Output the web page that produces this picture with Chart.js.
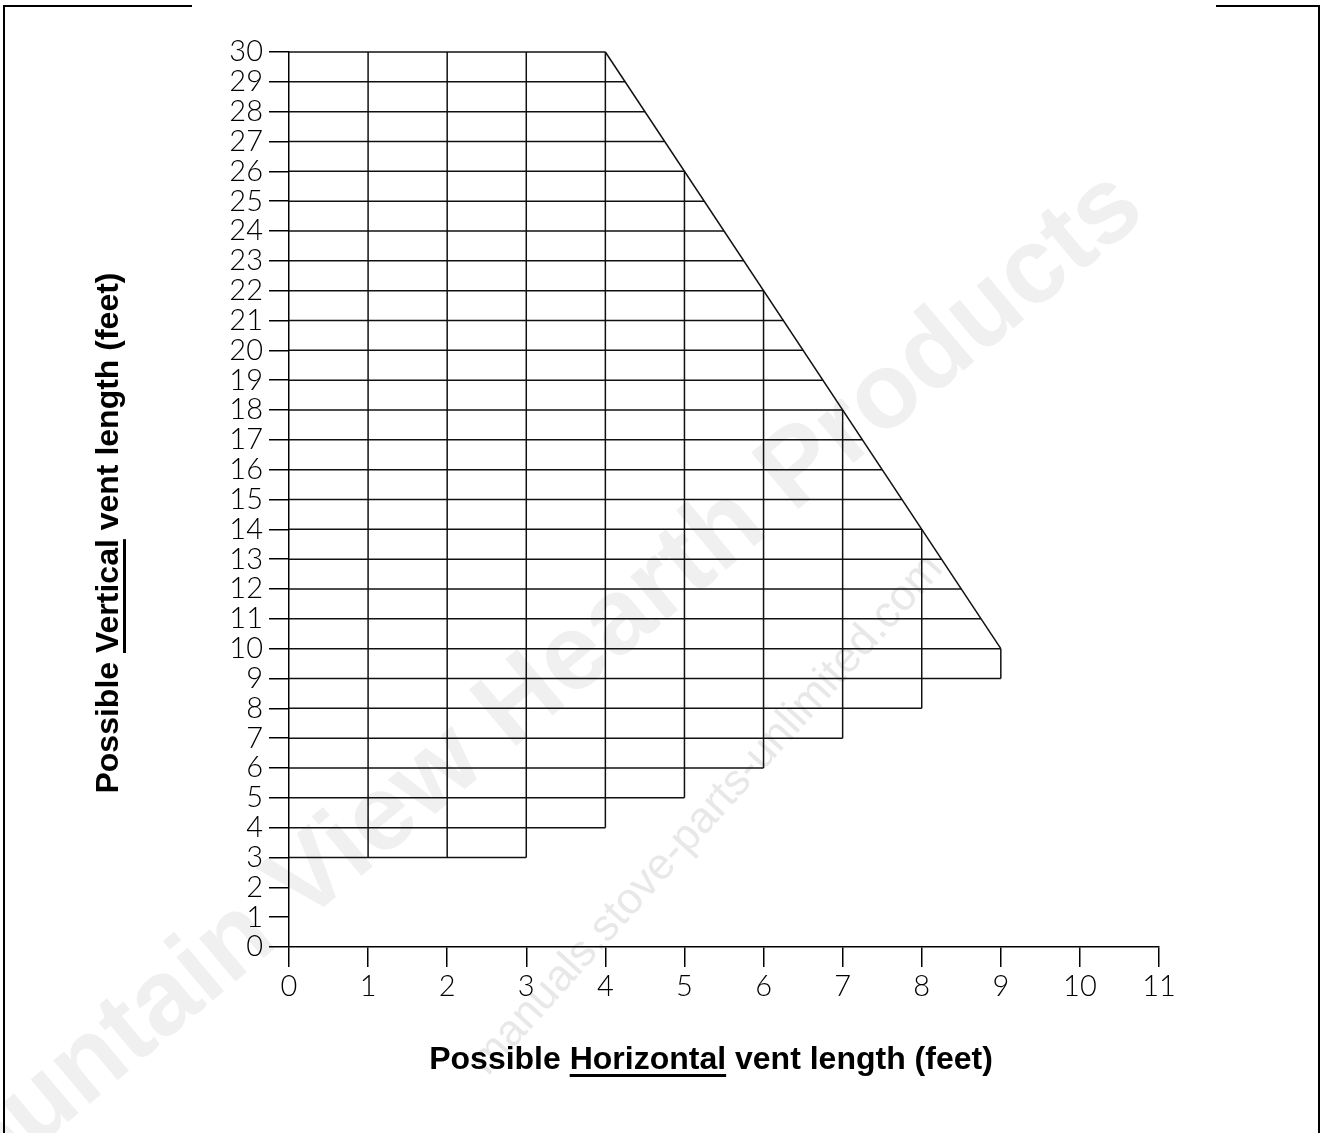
<!DOCTYPE html>
<html>
<head>
<meta charset="utf-8">
<title>Vent length chart</title>
<script src="https://cdn.jsdelivr.net/npm/chart.js@4.4.1/dist/chart.umd.min.js"></script>
<style>
html, body { margin: 0; padding: 0; background: #fff; overflow: hidden; }
canvas { display: block; }
</style>
</head>
<body>
<canvas id="ventChart" width="1320" height="1133"></canvas>
<script>
/* Tick labels on both axes */
const xTicks = [0, 1, 2, 3, 4, 5, 6, 7, 8, 9, 10, 11];
const yTicks = [0, 1, 2, 3, 4, 5, 6, 7, 8, 9, 10, 11, 12, 13, 14, 15,
    16, 17, 18, 19, 20, 21, 22, 23, 24, 25, 26, 27, 28, 29, 30];

/* Horizontal rows: vertical length and where the row ends on the right */
const rowY   = [3, 4, 5, 6, 7, 8, 9, 10, 11, 12, 13, 14, 15, 16, 17, 18,
    19, 20, 21, 22, 23, 24, 25, 26, 27, 28, 29, 30];
const rowEnd = [3, 4, 5, 6, 7, 8, 9, 9, 8.75, 8.5, 8.25, 8, 7.75, 7.5, 7.25, 7,
    6.75, 6.5, 6.25, 6, 5.75, 5.5, 5.25, 5, 4.75, 4.5, 4.25, 4];

/* Vertical columns: horizontal length, bottom and top of each column */
const colX      = [1, 2, 3, 4, 5, 6, 7, 8, 9];
const colBottom = [3, 3, 3, 4, 5, 6, 7, 8, 9];
const colTop    = [30, 30, 30, 30, 26, 22, 18, 14, 10];

/* Sloped limit line */
const slopeX = [9, 4];
const slopeY = [10, 30];

/////////////////////////////////////////////////////////////////
const lineColor = '#111';
const tickFont = { family: 'Lato', size: 29, weight: 300 };

function segment(points) {
    return {
        data: points,
        showLine: true,
        borderColor: lineColor,
        borderWidth: 1.5,
        pointRadius: 0,
        clip: false
    };
}

let datasets = [];
for (let i = 0; i < rowY.length; i++) {
    datasets.push(segment([{ x: 0, y: rowY[i] }, { x: rowEnd[i], y: rowY[i] }]));
}
for (let i = 0; i < colX.length; i++) {
    datasets.push(segment([{ x: colX[i], y: colBottom[i] }, { x: colX[i], y: colTop[i] }]));
}
datasets.push(segment([{ x: slopeX[0], y: slopeY[0] }, { x: slopeX[1], y: slopeY[1] }]));

/////////////////////////////////////////////////////////////////
/* Watermarks, page frame and the two underlined axis titles */
const pagePlugin = {
    id: 'pageDecor',
    beforeDraw(chart) {
        const ctx = chart.ctx;
        ctx.save();
        ctx.fillStyle = '#f0f0f0';
        ctx.textAlign = 'center';
        ctx.textBaseline = 'middle';
        ctx.translate(513, 710);
        ctx.rotate(-40 * Math.PI / 180);
        ctx.font = 'bold 107px "Liberation Sans"';
        ctx.fillText('Mountain View Hearth Products', 0, 0);
        ctx.restore();

        ctx.save();
        ctx.fillStyle = '#e8e8e8';
        ctx.textAlign = 'center';
        ctx.textBaseline = 'middle';
        ctx.translate(707, 815);
        ctx.rotate(-48 * Math.PI / 180);
        ctx.font = '44px "Liberation Sans"';
        ctx.fillText('manuals.stove-parts-unlimited.com', 0, 0);
        ctx.restore();
    },
    afterDraw(chart) {
        const ctx = chart.ctx;
        ctx.save();
        ctx.strokeStyle = '#000';
        ctx.lineWidth = 2;
        ctx.beginPath();
        ctx.moveTo(192, 6); ctx.lineTo(4, 6); ctx.lineTo(4, 1133);
        ctx.moveTo(1216, 6); ctx.lineTo(1319, 6); ctx.lineTo(1319, 1133);
        ctx.stroke();

        ctx.fillStyle = '#000';
        ctx.font = 'bold 32px "Liberation Sans"';
        ctx.textBaseline = 'alphabetic';
        ctx.textAlign = 'left';

        // x title
        let pre = 'Possible ', mid = 'Horizontal', post = ' vent length (feet)';
        let w = ctx.measureText(pre + mid + post).width;
        let x0 = 711 - w / 2, base = 1069;
        ctx.fillText(pre + mid + post, x0, base);
        let ux = x0 + ctx.measureText(pre).width;
        ctx.fillRect(ux, base + 5, ctx.measureText(mid).width, 3);

        // y title
        ctx.translate(118, 533);
        ctx.rotate(-Math.PI / 2);
        pre = 'Possible '; mid = 'Vertical';
        w = ctx.measureText(pre + mid + post).width;
        x0 = -w / 2;
        ctx.fillText(pre + mid + post, x0, 0);
        ux = x0 + ctx.measureText(pre).width;
        ctx.fillRect(ux, 5, ctx.measureText(mid).width, 3);
        ctx.restore();
    }
};

/////////////////////////////////////////////////////////////////
const ctx = document.getElementById('ventChart');
const ventChart = new Chart(ctx, {
    type: 'scatter',
    data: { datasets: datasets },
    plugins: [pagePlugin],
    options: {
        responsive: false,
        animation: false,
        layout: { padding: { left: 0, top: 52, right: 161, bottom: 0 } },
        plugins: {
            legend: { display: false },
            tooltip: { enabled: false }
        },
        scales: {
            x: {
                type: 'linear',
                position: 'bottom',
                min: xTicks[0],
                max: xTicks[xTicks.length - 1],
                afterBuildTicks: s => { s.ticks = xTicks.map(v => ({ value: v })); },
                afterFit: s => { s.height = 186; },
                ticks: { font: tickFont, color: '#000', padding: 2, maxRotation: 0, autoSkip: false },
                grid: { drawOnChartArea: false, drawTicks: true, tickLength: 20, color: '#000', lineWidth: 1.5 },
                border: { display: true, color: '#000', width: 1.5 }
            },
            y: {
                type: 'linear',
                min: yTicks[0],
                max: yTicks[yTicks.length - 1],
                afterBuildTicks: s => { s.ticks = yTicks.map(v => ({ value: v })); },
                afterFit: s => { s.width = 289; },
                ticks: { font: tickFont, color: '#000', padding: 6, autoSkip: false },
                grid: { drawOnChartArea: false, drawTicks: true, tickLength: 20, color: '#000', lineWidth: 1.5 },
                border: { display: true, color: '#000', width: 1.5 }
            }
        }
    }
});
</script>
</body>
</html>
